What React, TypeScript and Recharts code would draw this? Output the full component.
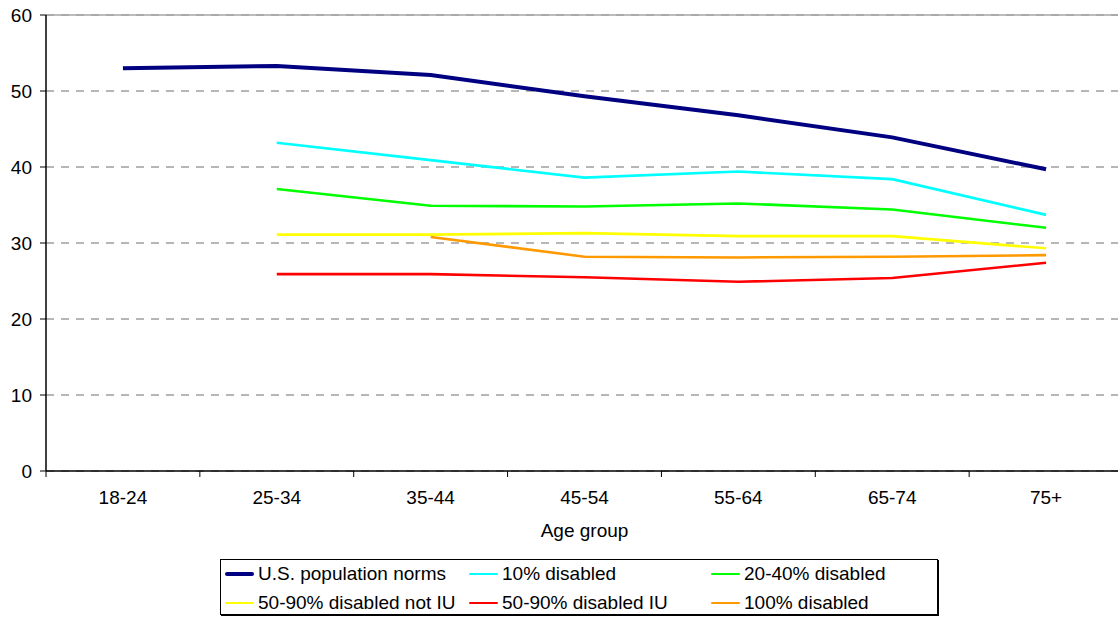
import React from 'react';
import { LineChart, Line, XAxis, YAxis, CartesianGrid, Legend, ReferenceLine } from 'recharts';

const AGE_GROUPS = ['18-24', '25-34', '35-44', '45-54', '55-64', '65-74', '75+'];
const US_NORMS = [53.0, 53.3, 52.1, 49.3, 46.8, 43.9, 39.7];
const DISABLED_10 = [null, 43.2, 40.9, 38.6, 39.4, 38.4, 33.7];
const DISABLED_20_40 = [null, 37.1, 34.9, 34.8, 35.2, 34.4, 32.0];
const DISABLED_50_90_NOT_IU = [null, 31.1, 31.1, 31.3, 30.9, 30.9, 29.3];
const DISABLED_50_90_IU = [null, 25.9, 25.9, 25.5, 24.9, 25.4, 27.4];
const DISABLED_100 = [null, null, 30.8, 28.2, 28.1, 28.2, 28.4];
const Y_TICKS = [0, 10, 20, 30, 40, 50, 60];

const SERIES = [
  { key: 'us', name: 'U.S. population norms', values: US_NORMS, color: '#000080', width: 4 },
  { key: 'd10', name: '10% disabled', values: DISABLED_10, color: '#00FFFF', width: 2.6 },
  { key: 'd2040', name: '20-40% disabled', values: DISABLED_20_40, color: '#00FF00', width: 2.6 },
  { key: 'd5090n', name: '50-90% disabled not IU', values: DISABLED_50_90_NOT_IU, color: '#FFFF00', width: 2.6 },
  { key: 'd5090i', name: '50-90% disabled IU', values: DISABLED_50_90_IU, color: '#FF0000', width: 2.6 },
  { key: 'd100', name: '100% disabled', values: DISABLED_100, color: '#FF9900', width: 2.6 },
];

const data = AGE_GROUPS.map((g, i) => {
  const row: any = { group: g };
  SERIES.forEach((s) => { row[s.key] = s.values[i]; });
  return row;
});

const FONT = '"Liberation Sans", Arial, sans-serif';

const LEGEND_COLS = [4, 248, 490];
const LEGEND_ROWS = [14, 43];

const LegendBox = () => (
  <div style={{ position: 'relative', width: 716, height: 54, border: '1px solid #000', boxShadow: '1px 1px 0 #000', background: '#fff', fontFamily: FONT, fontSize: 19, color: '#000' }}>
    {SERIES.map((s, i) => (
      <div key={s.key} style={{ position: 'absolute', left: LEGEND_COLS[i % 3], top: LEGEND_ROWS[Math.floor(i / 3)] - 12, height: 24, display: 'flex', alignItems: 'center', whiteSpace: 'nowrap' }}>
        <span style={{ display: 'inline-block', width: 29, height: s.width, background: s.color, marginRight: 4, borderRadius: 2 }} />
        <span>{s.name}</span>
      </div>
    ))}
  </div>
);

// Category tick: label centred in its band plus the band-boundary tick marks
const CategoryTick = (props: any) => {
  const { x, y, payload, width, visibleTicksCount, index } = props;
  const band = width / visibleTicksCount;
  const axisY = y - 20;
  const left = x - band / 2;
  const right = x + band / 2;
  return (
    <g>
      <line x1={left} x2={left} y1={axisY} y2={axisY + 6} stroke="#000" strokeWidth={1} />
      {index === visibleTicksCount - 1 ? <line x1={right} x2={right} y1={axisY} y2={axisY + 6} stroke="#000" strokeWidth={1} /> : null}
      <text x={x} y={y} dy="0.71em" textAnchor="middle" fill="#000" fontSize={19} fontFamily={FONT}>{payload.value}</text>
    </g>
  );
};

export default function App() {
  return (
    <div style={{ position: 'absolute', left: 0, top: 0, width: 1118, height: 619, overflow: 'hidden', background: '#fff' }}>
      <LineChart width={1125} height={619} data={data} margin={{ top: 15, right: 2, bottom: 79, left: 0 }} style={{ fontFamily: FONT }}>
        <CartesianGrid horizontal vertical={false} stroke="#6e6e6e" strokeDasharray="8 7" />
        <ReferenceLine y={60} stroke="#a6a6a6" strokeWidth={1.5} />
        <XAxis dataKey="group" scale="band" height={69} axisLine={{ stroke: '#000', strokeWidth: 1.5 }} tickLine={false} tickSize={0} tickMargin={20} interval={0} tick={CategoryTick} label={{ value: 'Age group', position: 'insideBottom', offset: 3, fill: '#000', fontSize: 19, fontFamily: FONT }} />
        <YAxis domain={[0, 60]} ticks={Y_TICKS} width={46} tickSize={6} tickMargin={8} axisLine={{ stroke: '#000', strokeWidth: 1.5 }} tickLine={{ stroke: '#000' }} tick={{ fill: '#000', fontSize: 19, fontFamily: FONT }} />
        {SERIES.map((s) => (
          <Line key={s.key} type="linear" dataKey={s.key} name={s.name} stroke={s.color} strokeWidth={s.width} dot={false} activeDot={false} isAnimationActive={false} connectNulls={false} />
        ))}
        <Legend layout="horizontal" verticalAlign="middle" align="center" wrapperStyle={{ left: 220, top: 559, width: 718, height: 56 }} content={() => <LegendBox />} />
      </LineChart>
    </div>
  );
}
